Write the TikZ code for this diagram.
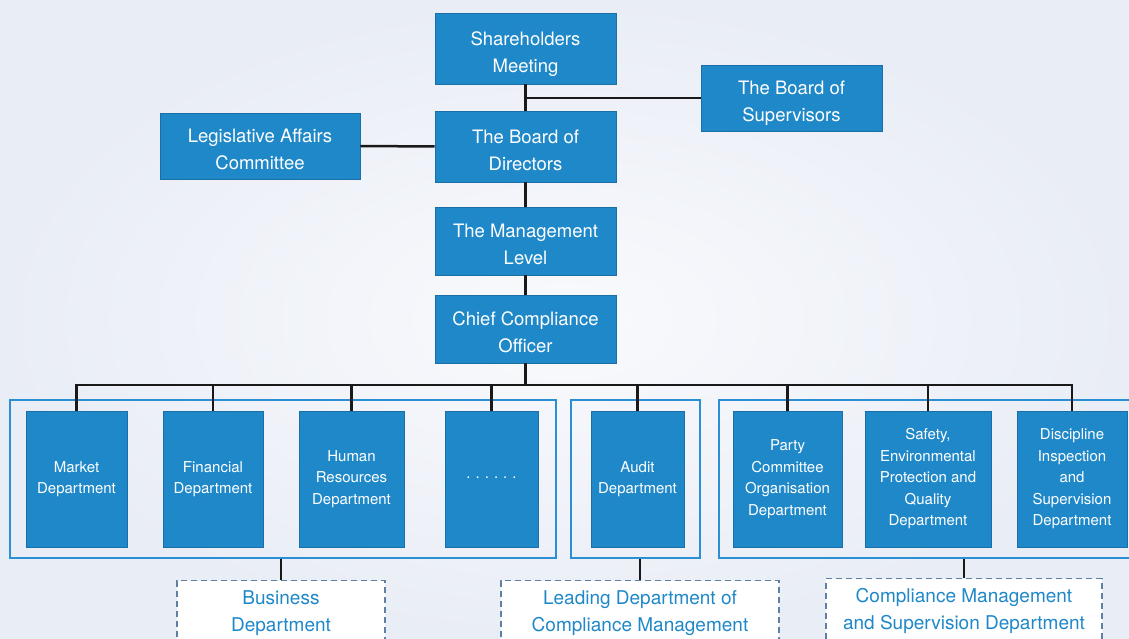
\documentclass[tikz,border=0pt]{standalone}
\usepackage{fontspec}
\setmainfont{TeX Gyre Heros}
\definecolor{boxblue}{HTML}{1F88C9}
\definecolor{boxedge}{HTML}{1A6FA8}
\definecolor{groupblue}{HTML}{2A8FD4}
\definecolor{dashgray}{HTML}{5F80A2}
\definecolor{bglight}{HTML}{F9FAFD}
\definecolor{bgdark}{HTML}{E9EDF5}
\newcommand{\twolines}[1]{\raisebox{-9pt}[0pt][0pt]{\begin{tabular}{@{}c@{}}#1\end{tabular}}}
\tikzset{every picture/.style={line width=0.75pt}}
\tikzset{
  unit/.style={draw=boxedge, fill=boxblue, text=white, inner sep=0pt,
    minimum width=181, minimum height=68, font=\fontsize{18.5}{27}\selectfont},
  dept/.style={draw=boxedge, fill=boxblue, text=white, align=center, inner sep=0pt,
    minimum height=136, font=\fontsize{15}{21.5}\selectfont},
  group/.style={draw=groupblue, line width=2pt, inner sep=0pt, minimum height=158},
  dashbox/.style={draw=dashgray, dash pattern=on 6pt off 4pt, line width=1.3pt, fill=white,
    text=boxblue, align=center, inner sep=0pt, minimum height=64, anchor=north,
    font=\fontsize{19}{27}\selectfont},
  link/.style={draw=black!90, line width=2.5pt}
}

\begin{document}
\begin{tikzpicture}[x=1pt,y=1pt,yscale=-1,xscale=1]
    \useasboundingbox (0,0) rectangle (1129,639);
    \clip (0,0) rectangle (1129,639);
    \shade[inner color=bglight, outer color=bgdark] (0,0) rectangle (1129,639);
    % top of the chart
    \node [unit, minimum height=71] (share) at (525.5,48.5) {\twolines{Shareholders\\Meeting}};
    \node [unit, minimum height=66] (super) at (791.5,98) {\twolines{The Board of\\Supervisors}};
    \node [unit, minimum width=200, minimum height=66] (legis) at (260,146) {\twolines{Legislative Affairs\\Committee}};
    \node [unit, minimum height=71] (board) at (525.5,146.5) {\twolines{The Board of\\Directors}};
    \node [unit] (manage) at (525.5,241) {\twolines{The Management\\Level}};
    \node [unit] (chief) at (525.5,329) {\twolines{Chief Compliance\\Officer}};
    % groups of departments
    \node [group, minimum width=546] (gbiz) at (283,479) {};
    \node [group, minimum width=129] (gaudit) at (635.5,479) {};
    \node [group, minimum width=490] (gcomp) at (964,479) {};
    % departments
    \node [dept, minimum width=101] (market) at (76.5,479) {Market\\Department};
    \node [dept, minimum width=100] (finance) at (213,479) {Financial\\Department};
    \node [dept, minimum width=105] (human) at (351.5,479) {Human\\Resources\\Department};
    \node [dept, minimum width=93] (dots) at (491.5,479) {\raisebox{2pt}{.\,\,.\,\,.\,\,.\,\,.\,\,.}};
    \node [dept, minimum width=93] (audit) at (637.5,479) {Audit\\Department};
    \node [dept, minimum width=109] (party) at (787.5,479) {Party\\Committee\\Organisation\\Department};
    \node [dept, minimum width=126] (safety) at (928,479) {Safety,\\Environmental\\Protection and\\Quality\\Department};
    \node [dept, minimum width=110] (discip) at (1072,479) {Discipline\\Inspection\\and\\Supervision\\Department};
    % dashed labels
    \node [dashbox, minimum width=208] (biz) at (281,580) {Business\\Department};
    \node [dashbox, minimum width=278] (lead) at (640,580) {Leading Department of\\Compliance Management};
    \node [dashbox, minimum width=276] (cmsd) at (964,578) {Compliance Management\\and Supervision Department};
    % connectors
    \draw [link] (share.south) -- (board.north);
    \draw [link] (super.west) -- (super.west -| share.south);
    \draw [link] (legis.east) -- (board.west);
    \draw [link] (board.south) -- (manage.north);
    \draw [link] (manage.south) -- (chief.north);
    \coordinate (bus) at (525.5,385);
    \draw [link] (chief.south) -- (bus);
    \foreach \d in {market,finance,human,dots,audit,party,safety,discip}
        \draw [link] (\d.north) |- (bus);
    \draw [link] (biz.north) -- (biz.north |- gbiz.south);
    \draw [link] (lead.north) -- (lead.north |- gaudit.south);
    \draw [link] (cmsd.north) -- (cmsd.north |- gcomp.south);
\end{tikzpicture}
\end{document}
